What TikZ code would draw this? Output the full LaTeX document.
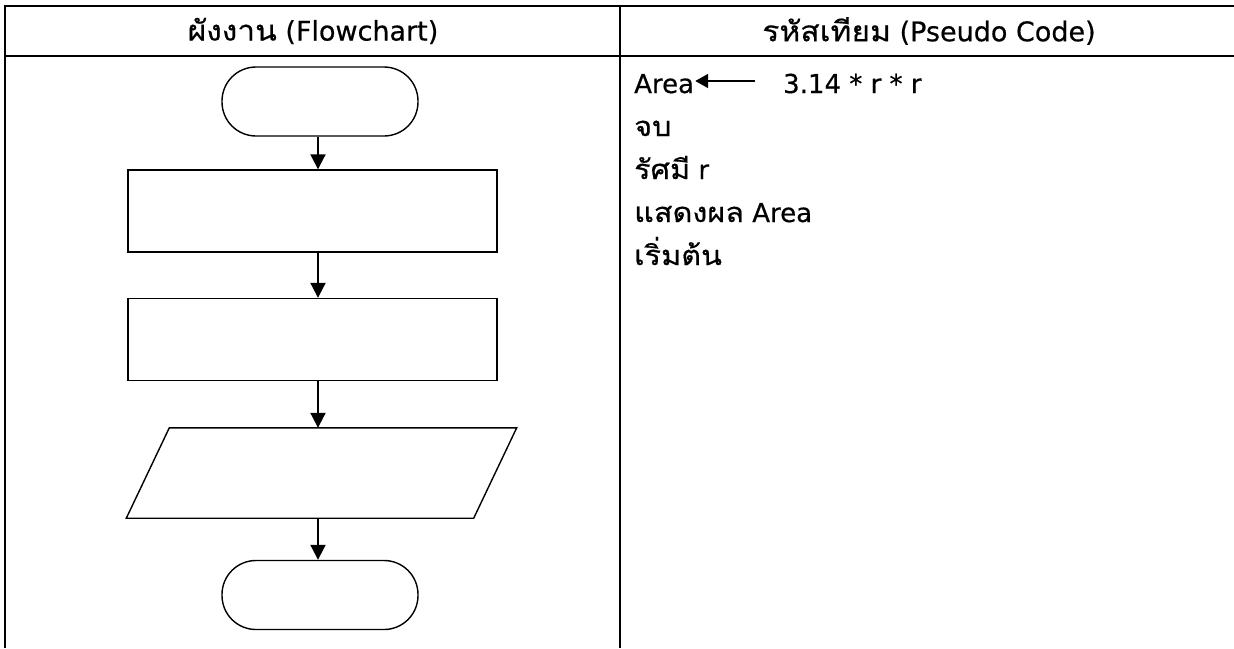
\documentclass[tikz,border=0pt]{standalone}
\usepackage{fontspec}
\setmainfont[FakeBold=0.5]{DejaVu Sans}
\newfontfamily\thaifont[Script=Thai,Scale=1.05,FakeStretch=1.12,FakeBold=0.5]{Loma}
\usetikzlibrary{arrows.meta,calc}

\tikzset{
  grid line/.style={line width=2.3pt},
  shape line/.style={line width=1.4pt},
  terminal/.style={shape line, draw, rectangle, rounded corners=34pt,
    minimum width=196pt, minimum height=69pt, inner sep=0pt},
  process/.style={shape line, draw, rectangle,
    minimum width=369pt, minimum height=82pt, inner sep=0pt},
  iobody/.style={rectangle, minimum width=347pt, minimum height=90pt, inner sep=0pt},
  flow/.style={line width=2pt, -{Triangle[length=15pt,width=15pt]}},
  assign/.style={line width=2pt, -{Triangle[length=13pt,width=14pt]}},
  txt/.style={font=\fontsize{26pt}{31pt}\selectfont, inner sep=0pt},
  head/.style={font=\fontsize{27pt}{32pt}\selectfont, inner sep=0pt},
}

\begin{document}
\begin{tikzpicture}[x=1pt,y=-1pt]
\useasboundingbox (0,0) rectangle (1234,648);

% table frame
\draw[grid line] (5,648) -- (5,6) -- (1234,6);
\draw[grid line] (5,56) -- (1234,56);
\draw[grid line] (620,6) -- (620,648);

% column headers
\node[head] (h1) at (313,31) {{\thaifont ผังงาน} (Flowchart)};
\node[head] (h2) at (929,31) {{\thaifont รหัสเทียม} (Pseudo Code)};

% flowchart symbols
\coordinate (axis) at (318,0);
\node[terminal] (t1) at (320,101.5) {};
\node[process] (r1) at (312.5,211) {};
\node[process] (r2) at (312.5,339.5) {};
\node[iobody] (io) at (321.5,473) {};
\draw[shape line] ($(io.north west)+(21.5,0)$) -- ($(io.north east)+(21.5,0)$)
  -- ($(io.south east)+(-21.5,0)$) -- ($(io.south west)+(-21.5,0)$) -- cycle;
\node[terminal] (t2) at (320,595) {};

% flow lines
\draw[flow] (t1.south -| axis) -- (r1.north -| axis);
\draw[flow] (r1.south -| axis) -- (r2.north -| axis);
\draw[flow] (r2.south -| axis) -- (io.north -| axis);
\draw[flow] (io.south -| axis) -- (t2.north -| axis);

% pseudo code lines
\node[txt, anchor=base west] (area) at (634,93) {Area};
\node[txt, anchor=base west] (expr) at (783,93) {3.14 * r * r};
\coordinate (from) at (755,81);
\draw[assign] (from) -- ([xshift=1pt]from -| area.east);
\node[txt, anchor=base west] (l2) at (634,136) {\thaifont จบ};
\node[txt, anchor=base west] (l3) at (634,179) {{\thaifont รัศมี} r};
\node[txt, anchor=base west] (l4) at (634,222) {{\thaifont แสดงผล} Area};
\node[txt, anchor=base west] (l5) at (634,265) {\thaifont เริ่มต้น};
\end{tikzpicture}
\end{document}
